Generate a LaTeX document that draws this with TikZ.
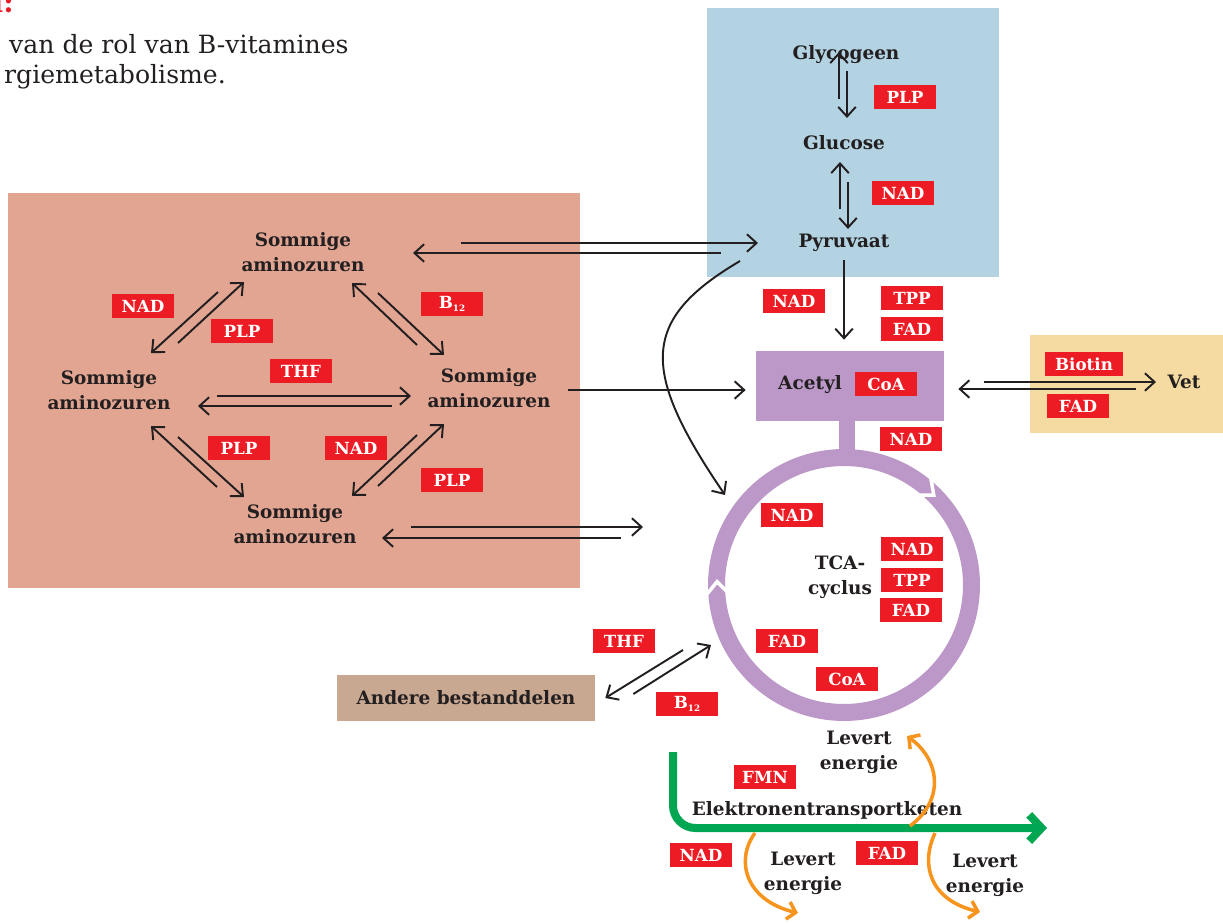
\documentclass[tikz,border=0pt]{standalone}
\usepackage{fontspec}
\setmainfont{DejaVu Serif}
\usetikzlibrary{arrows.meta,positioning,calc}

\definecolor{vitred}{HTML}{ED1C24}
\definecolor{textdark}{HTML}{231F20}
\definecolor{pinkbg}{HTML}{E1A592}
\definecolor{bluebg}{HTML}{B3D3E3}
\definecolor{purplebox}{HTML}{BC98C8}
\definecolor{yellowbg}{HTML}{F5DBA1}
\definecolor{anderebg}{HTML}{C9A891}
\definecolor{etcgreen}{HTML}{00A651}
\definecolor{orangeE}{HTML}{F7941D}

\begin{document}
\begin{tikzpicture}
			[x=0.02cm, y=-0.02cm,
			>={Straight Barb[length=5.5pt,width=10pt]},
			stof/.style={font=\fontsize{10.5}{14.2}\selectfont\bfseries, text=textdark, align=center, inner sep=1pt},
			vit/.style={fill=vitred, text=white, font=\fontsize{9.5}{10}\selectfont\bfseries, minimum width=1.24cm, minimum height=0.47cm, inner sep=0pt},
			pijl/.style={->, line width=1.1pt, draw=textdark},
			energie/.style={draw=orangeE, line width=2pt, -{Straight Barb[length=4.5pt,width=10pt]}},
			etc/.style={draw=etcgreen, line width=0.16cm, rounded corners=0.45cm, -{Straight Barb[length=7pt,width=15pt]}}]
			\useasboundingbox (0,0) rectangle (1223,923);

			\fill[pinkbg] (8,193) rectangle (580,588);
			\fill[bluebg] (707,8) rectangle (999,277);
			\fill[yellowbg] (1030,335) rectangle (1223,433);

			\node[anchor=base east, inner sep=0pt, text=vitred, font=\fontsize{16}{18}\selectfont\bfseries] (kop) at (14,12) {l:};
			\node[anchor=base west, text=textdark, font=\fontsize{14.3}{16}\selectfont] (bijschrift1) at (3,53) {van de rol van B-vitamines};
			\node[anchor=base west, text=textdark, font=\fontsize{14.3}{16}\selectfont] (bijschrift2) at (-2,83) {rgiemetabolisme.};

			\node[stof] (aztop) at (303,252) {Sommige\\aminozuren};
			\node[stof] (azleft) at (109,390) {Sommige\\aminozuren};
			\node[stof] (azright) at (489,388) {Sommige\\aminozuren};
			\node[stof] (azbottom) at (295,524) {Sommige\\aminozuren};

			\node[stof] (glycogeen) at (846,55) {Glycogeen};
			\node[stof] (glucose) at (844,143) {Glucose};
			\node[stof] (pyruvaat) at (844,243) {Pyruvaat};

			\node[fill=purplebox, minimum width=3.76cm, minimum height=1.4cm] (acetyl) at (850,386) {};
			\node[stof] (acetyltxt) at (810,385) {Acetyl};
			\node[stof] (vet) at (1184,382) {Vet};
			\node[fill=anderebg, minimum width=5.16cm, minimum height=0.92cm, stof] (andere) at (466,698) {Andere bestanddelen};

			\node[circle, draw=purplebox, line width=0.34cm, minimum size=5.1cm, inner sep=0pt] (tca) at (844,585) {};
			\draw[purplebox, line width=0.32cm] ([shift={(-3,0)}]acetyl.south) -- +(0,36);
			\draw[white, line width=0.07cm] ([shift={(-52:114)}]tca.center) -- ([shift={(-45:127)}]tca.center) -- ([shift={(-52:140)}]tca.center);
			\draw[white, line width=0.07cm] ([shift={(175:114)}]tca.center) -- ([shift={(181.5:127)}]tca.center) -- ([shift={(175:140)}]tca.center);
			\node[stof] (tcatxt) at (840,577) {TCA-\\cyclus};

			\node[vit] (nad1) at (143,306) {NAD};
			\node[vit] (plp1) at (242,331) {PLP};
			\node[vit] (b1) at (452,304) {B\raisebox{-0.3ex}{\tiny 12}};
			\node[vit] (thf1) at (301,371) {THF};
			\node[vit] (plp2) at (239,448) {PLP};
			\node[vit] (nad2) at (356,448) {NAD};
			\node[vit] (plp3) at (452,480) {PLP};
			\node[vit] (plp4) at (905,97) {PLP};
			\node[vit] (nad3) at (903,193) {NAD};
			\node[vit] (nad4) at (794,301) {NAD};
			\node[vit] (tpp1) at (912,298) {TPP};
			\node[vit] (fad1) at (912,329) {FAD};
			\node[vit] (coa1) at (886,384) {CoA};
			\node[vit, minimum width=1.56cm] (biotin) at (1084,364) {Biotin};
			\node[vit] (fad2) at (1078,406) {FAD};
			\node[vit] (nad5) at (911,439) {NAD};
			\node[vit] (nad6) at (792,515) {NAD};
			\node[vit] (nad7) at (912,549) {NAD};
			\node[vit] (tpp2) at (912,580) {TPP};
			\node[vit] (fad3) at (911,610) {FAD};
			\node[vit] (fad4) at (787,641) {FAD};
			\node[vit] (coa2) at (847,679) {CoA};
			\node[vit] (thf2) at (624,641) {THF};
			\node[vit] (b2) at (687,704) {B\raisebox{-0.3ex}{\tiny 12}};
			\node[vit] (fmn) at (765,777) {FMN};
			\node[vit] (nad8) at (701,855) {NAD};
			\node[vit] (fad5) at (887,853) {FAD};

			\draw[pijl] ([shift={(-85,40)}]aztop.center) -- ([shift={(42,-37)}]azleft.center);
			\draw[pijl] ([shift={(69,-47)}]azleft.center) -- ([shift={(-59,30)}]aztop.center);
			\draw[pijl] ([shift={(-72,-43)}]azright.center) -- ([shift={(49,31)}]aztop.center);
			\draw[pijl] ([shift={(75,41)}]aztop.center) -- ([shift={(-45,-33)}]azright.center);
			\draw[pijl] ([shift={(108,6)}]azleft.center) -- ([shift={(-78,8)}]azright.center);
			\draw[pijl] ([shift={(-97,18)}]azright.center) -- ([shift={(89,16)}]azleft.center);
			\draw[pijl] ([shift={(-78,-37)}]azbottom.center) -- ([shift={(42,36)}]azleft.center);
			\draw[pijl] ([shift={(69,47)}]azleft.center) -- ([shift={(-51,-27)}]azbottom.center);
			\draw[pijl] ([shift={(-72,47)}]azright.center) -- ([shift={(57,-28)}]azbottom.center);
			\draw[pijl] ([shift={(83,-38)}]azbottom.center) -- ([shift={(-45,36)}]azright.center);

			\draw[pijl] ([shift={(158,-9)}]aztop.center) -- ([shift={(-86,0)}]pyruvaat.center);
			\draw[pijl] ([shift={(-123,10)}]pyruvaat.center) -- ([shift={(110,1)}]aztop.center);
			\draw[pijl] ([shift={(79,2)}]azright.center) -- ([shift={(-10,4)}]acetyl.west);
			\draw[pijl] ([shift={(116,3)}]azbottom.center) -- ([shift={(-201,-58)}]tca.center);
			\draw[pijl] ([shift={(-223,-47)}]tca.center) -- ([shift={(87,14)}]azbottom.center);
			\draw[pijl] ([shift={(-104,18)}]pyruvaat.center) .. controls +(-100,59) and +(-85,-125) .. ([shift={(-119,-90)}]tca.center);

			\draw[pijl] ([shift={(-5,-44)}]glucose.center) -- ([shift={(-7,-3)}]glycogeen.center);
			\draw[pijl] ([shift={(1,16)}]glycogeen.center) -- ([shift={(3,-25)}]glucose.center);
			\draw[pijl] ([shift={(-4,-34)}]pyruvaat.center) -- ([shift={(-4,19)}]glucose.center);
			\draw[pijl] ([shift={(4,39)}]glucose.center) -- ([shift={(4,-14)}]pyruvaat.center);
			\draw[pijl] ([shift={(0,17)}]pyruvaat.center) -- ([shift={(-6,-11)}]acetyl.north);

			\draw[pijl] ([shift={(40,-4)}]acetyl.east) -- ([shift={(-28,0)}]vet.center);
			\draw[pijl] ([shift={(-48,7)}]vet.center) -- ([shift={(14,3)}]acetyl.east);
			\draw[pijl] ([shift={(-161,65)}]tca.center) -- ([shift={(10,0)}]andere.east);
			\draw[pijl] ([shift={(38,-4)}]andere.east) -- ([shift={(-133,60)}]tca.center);

			\coordinate (etcstart) at (673,752);
			\coordinate (etcend) at (1047,828);
			\draw[etc] (etcstart) |- (etcend);
			\node[stof] (etctxt) at (827,810) {Elektronentransportketen};

			\node[stof] (lev1) at (859,752) {Levert\\energie};
			\node[stof] (lev2) at (803,873) {Levert\\energie};
			\node[stof] (lev3) at (985,875) {Levert\\energie};
			\coordinate (o1start) at (910,826);
			\coordinate (o2start) at (755,833);
			\coordinate (o3start) at (935,833);
			\draw[energie] (o1start) .. controls +(35,-26) and +(33,24) .. ([shift={(48,-16)}]lev1.center);
			\draw[energie] (o2start) .. controls +(-20,27) and +(-53,-13) .. ([shift={(-5,40)}]lev2.center);
			\draw[energie] (o3start) .. controls +(-15,32) and +(-50,-12) .. ([shift={(-5,37)}]lev3.center);
\end{tikzpicture}
\end{document}
